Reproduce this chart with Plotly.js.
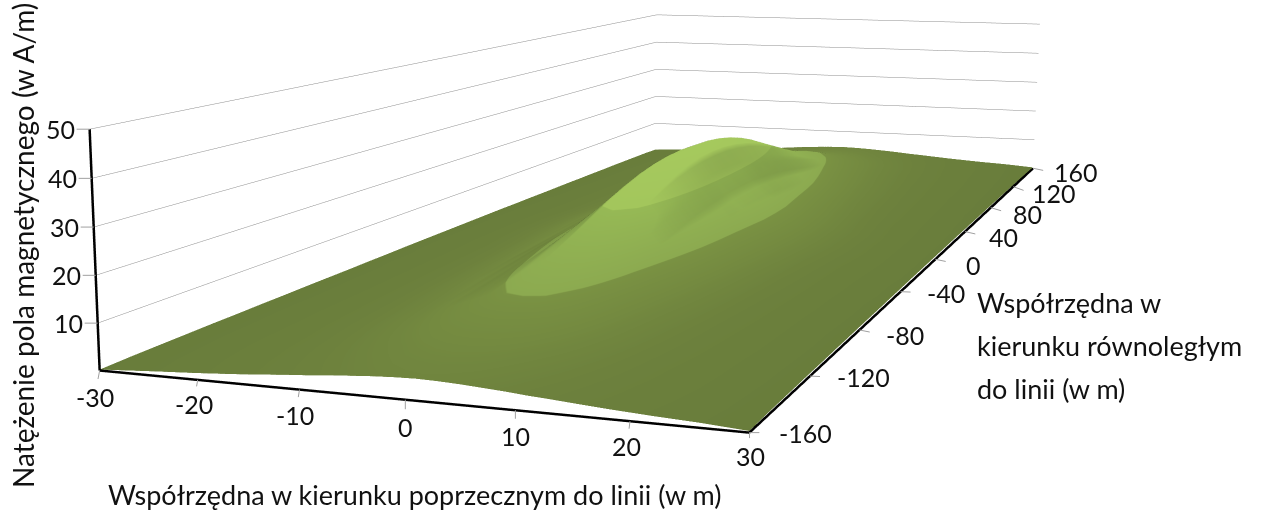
<!DOCTYPE html>
<html><head><meta charset="utf-8">
<script src="https://cdn.plot.ly/plotly-3.0.1.min.js"></script>
<style>html,body{margin:0;padding:0;background:#fff;overflow:hidden;width:1261px;height:510px}
#plot{position:absolute;left:-212px;top:-570px}</style></head>
<body><div id="plot"></div>
<script>
const xGrid=[-30,-24,-20,-16,-13,-11,-9,-7,-5,-3,-1,1,3,5,7,9,11,13,15,18,22,26,30];
const yGrid=[-160,-150,-140,-130,-120,-110,-100,-90,-80,-70,-60,-50,-40,-30,-20,-10,0,10,20,30,40,50,60,70,80,90,100,110,120,130,140,150,160];
// field read across the line from the ridge outwards, one profile per 10 m along the line
const fieldProfiles=[
[27.6,25.9,20.6,16,12.7,9.9,7.6,5.9,4,2.4,1.4,.8,.7],
[27.4,25.7,20.5,15.9,12.6,9.8,7.5,5.8,4,2.4,1.4,.8,.7],
[26.7,25.1,20.2,15.4,12,9.3,7.2,5.6,3.8,2.3,1.4,.8,.7],
[25.6,24.1,19.5,14.8,11.5,8.8,6.8,5.3,3.6,2.2,1.35,.8,.7],
[24.1,22.7,18.5,14,11,8.4,6.4,5,3.45,2.15,1.3,.75,.65],
[22.2,21,17.2,13,10.4,7.9,6,4.7,3.3,2.1,1.3,.75,.65],
[19.9,18.9,15.8,12,9.6,7.4,5.7,4.5,3.2,2.05,1.25,.7,.6],
[17.5,16.7,14.3,11,8.8,6.8,5.3,4.3,3.05,2,1.25,.7,.6],
[15.2,14.6,12.8,10.1,8,6.3,5,4.1,2.95,1.95,1.2,.7,.6],
[13.2,12.8,11.3,9.2,7.3,5.8,4.7,3.9,2.85,1.9,1.2,.65,.55],
[11.6,11.2,10,8.3,6.7,5.4,4.4,3.7,2.75,1.85,1.2,.65,.55],
[10.2,9.9,8.8,7.5,6.2,5,4.2,3.5,2.65,1.8,1.2,.6,.5],
[8.3,8.1,7.6,6.6,5.6,4.7,4,3.35,2.55,1.75,1.15,.6,.5],
[6.9,6.8,6.4,5.7,5,4.3,3.7,3.15,2.4,1.7,1.15,.55,.45],
[5.8,5.7,5.4,4.9,4.4,3.9,3.4,2.95,2.3,1.65,1.1,.5,.4],
[5,4.9,4.7,4.3,3.9,3.5,3.1,2.7,2.15,1.55,1.05,.45,.35],
[4.4,4.3,4.1,3.8,3.5,3.1,2.8,2.45,1.95,1.4,.95,.3,.2]
];
const profileIndex=[12,10,9,8,7,6,5,4,3,2,1,0,1,2,3,4,5,6,7,8,9,10,11];
const xTicks=[-30,-20,-10,0,10,20,30];
const yTicks=[-160,-120,-80,-40,0,40,80,120,160];
const zTicks=[10,20,30,40,50];
const xTitle="Współrzędna w kierunku poprzecznym do linii (w m)";
const yTitleLines=["Współrzędna w","kierunku równoległym","do linii (w m)"];
const zTitle="Natężenie pola magnetycznego (w A/m)";

const fieldRows=yGrid.map(y=>profileIndex.map(i=>fieldProfiles[Math.abs(y)/10][i]));
const W=1480,H=1740,LEFT=-212,TOP=-570;
const FAM="Lato, 'Open Sans', sans-serif";
const tickFont={family:FAM,size:25,color:"#111"}, titleFont={family:FAM,size:27,color:"#111"};
const xLabelOffset=[[-5,26],[-4,24],[-4,25],[0,27],[0,26],[-3,25],[1,23]];
const yLabelOffset=[[28,0],[25,1],[25,5],[24,1],[29,6],[22,5],[20,6],[17,6],[19,4]];
const px=v=>(v-LEFT)/W, py=v=>1-(v-TOP)/H;

const tickAnn=a=>Object.assign({showarrow:true,arrowhead:0,arrowwidth:1,arrowcolor:"#a0a0a0",font:tickFont},a);
const sceneAnn=[
 ...xTicks.map((v,i)=>tickAnn({x:v,y:-160,z:0,text:String(v),ax:xLabelOffset[i][0],ay:xLabelOffset[i][1],startstandoff:1})),
 ...yTicks.map((v,i)=>tickAnn({x:30,y:v,z:0,text:String(v),ax:yLabelOffset[i][0],ay:yLabelOffset[i][1],xanchor:"left",startstandoff:Math.max(4,yLabelOffset[i][0]-10)})),
 ...zTicks.map(v=>tickAnn({x:-30,y:-160,z:v,text:String(v),ax:-29,ay:0}))
];
const axisLine=(x,y,z)=>({type:"scatter3d",mode:"lines",x,y,z,line:{color:"#000",width:5},hoverinfo:"skip",showlegend:false});
const hidden={visible:false,showgrid:false,zeroline:false,showline:false,showticklabels:false,showspikes:false,title:{text:""}};
const traces=[
 {type:"surface",x:xGrid,y:yGrid,z:fieldRows,cmin:0,cmax:30,showscale:false,hoverinfo:"skip",
  colorscale:[[0,"#687c3b"],[.1,"#6d813d"],[.2,"#748a40"],[1/3,"#7a9243"],[1/3,"#8caa50"],[2/3,"#96b955"],[2/3,"#a3c65c"],[1,"#a6ca5e"]],
  lighting:{ambient:.2,diffuse:.93,specular:0,roughness:1,fresnel:0},
  lightposition:{x:5000,y:-1000,z:8600}},
 axisLine([-30,30],[-160,-160],[0,0]),
 axisLine([30,30],[-160,160],[0,0]),
 axisLine([-30,-30],[-160,-160],[0,50])
];
const titleAnn=a=>Object.assign({xref:"paper",yref:"paper",showarrow:false,font:titleFont},a);
const layout={width:W,height:H,margin:{l:0,r:0,t:0,b:0},paper_bgcolor:"#fff",showlegend:false,
 scene:{domain:{x:[0,1],y:[0,1]},bgcolor:"#fff",
  aspectmode:"manual",aspectratio:{x:1,y:2.752,z:.362},
  camera:{eye:{x:1.189,y:-4.002,z:.544},center:{x:-.2775,y:-.165,z:-.286},up:{x:0,y:0,z:1},projection:{type:"perspective"}},
  xaxis:Object.assign({},hidden,{range:[-30,30]}),
  yaxis:Object.assign({},hidden,{range:[-160,160]}),
  zaxis:{range:[0,50],tickvals:zTicks,showgrid:true,gridcolor:"#8c8c8c",gridwidth:1,showticklabels:false,showline:false,zeroline:false,showspikes:false,showbackground:false,title:{text:""},ticks:""},
  annotations:sceneAnn},
 annotations:[
  titleAnn({x:px(414),y:py(494),xanchor:"center",yanchor:"middle",text:xTitle}),
  titleAnn({x:px(975),y:py(303),xanchor:"left",yanchor:"middle",text:yTitleLines[0]}),
  titleAnn({x:px(975),y:py(345),xanchor:"left",yanchor:"middle",text:yTitleLines[1]}),
  titleAnn({x:px(975),y:py(388),xanchor:"left",yanchor:"middle",text:yTitleLines[2]}),
  titleAnn({x:px(23),y:py(245),xanchor:"center",yanchor:"middle",text:zTitle,textangle:-90,font:{family:FAM,size:28,color:"#111"}})
 ]};
Plotly.newPlot("plot",traces,layout,{displayModeBar:false});
</script></body></html>
